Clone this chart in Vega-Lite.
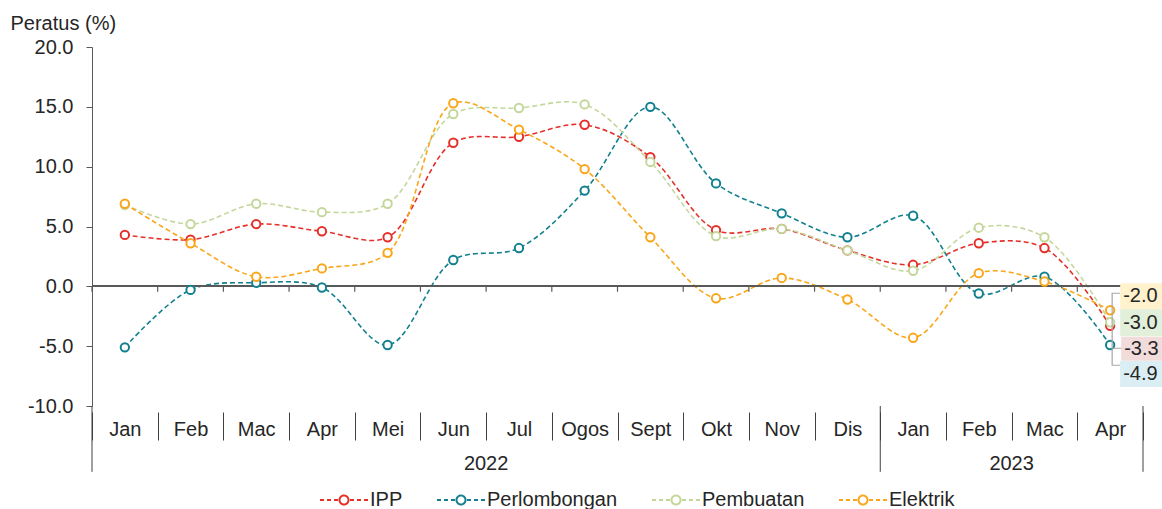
{
  "$schema": "https://vega.github.io/schema/vega-lite/v6.json",
  "width": 1051,
  "height": 359,
  "autosize": "none",
  "padding": {"left": 92, "top": 47, "right": 19, "bottom": 103},
  "background": "white",
  "config": {
    "font": "Liberation Sans, Arial, sans-serif",
    "view": {"stroke": null},
    "locale": {"number": {"decimal": ".", "thousands": ",", "grouping": [3], "currency": ["", ""], "minus": "-"}}
  },
  "data": {
    "values": [
      {"m": "2022-Jan", "s": "IPP", "v": 4.3}, {"m": "2022-Feb", "s": "IPP", "v": 3.9}, {"m": "2022-Mac", "s": "IPP", "v": 5.2}, {"m": "2022-Apr", "s": "IPP", "v": 4.6},
      {"m": "2022-Mei", "s": "IPP", "v": 4.1}, {"m": "2022-Jun", "s": "IPP", "v": 12.0}, {"m": "2022-Jul", "s": "IPP", "v": 12.5}, {"m": "2022-Ogos", "s": "IPP", "v": 13.5},
      {"m": "2022-Sept", "s": "IPP", "v": 10.8}, {"m": "2022-Okt", "s": "IPP", "v": 4.7}, {"m": "2022-Nov", "s": "IPP", "v": 4.8}, {"m": "2022-Dis", "s": "IPP", "v": 3.0},
      {"m": "2023-Jan", "s": "IPP", "v": 1.8}, {"m": "2023-Feb", "s": "IPP", "v": 3.6}, {"m": "2023-Mac", "s": "IPP", "v": 3.2}, {"m": "2023-Apr", "s": "IPP", "v": -3.3},
      {"m": "2022-Jan", "s": "Perlombongan", "v": -5.1}, {"m": "2022-Feb", "s": "Perlombongan", "v": -0.3}, {"m": "2022-Mac", "s": "Perlombongan", "v": 0.3}, {"m": "2022-Apr", "s": "Perlombongan", "v": -0.1},
      {"m": "2022-Mei", "s": "Perlombongan", "v": -4.9}, {"m": "2022-Jun", "s": "Perlombongan", "v": 2.2}, {"m": "2022-Jul", "s": "Perlombongan", "v": 3.2}, {"m": "2022-Ogos", "s": "Perlombongan", "v": 8.0},
      {"m": "2022-Sept", "s": "Perlombongan", "v": 15.0}, {"m": "2022-Okt", "s": "Perlombongan", "v": 8.6}, {"m": "2022-Nov", "s": "Perlombongan", "v": 6.1}, {"m": "2022-Dis", "s": "Perlombongan", "v": 4.1},
      {"m": "2023-Jan", "s": "Perlombongan", "v": 5.9}, {"m": "2023-Feb", "s": "Perlombongan", "v": -0.6}, {"m": "2023-Mac", "s": "Perlombongan", "v": 0.8}, {"m": "2023-Apr", "s": "Perlombongan", "v": -4.9},
      {"m": "2022-Jan", "s": "Pembuatan", "v": 6.8}, {"m": "2022-Feb", "s": "Pembuatan", "v": 5.2}, {"m": "2022-Mac", "s": "Pembuatan", "v": 6.9}, {"m": "2022-Apr", "s": "Pembuatan", "v": 6.2},
      {"m": "2022-Mei", "s": "Pembuatan", "v": 6.9}, {"m": "2022-Jun", "s": "Pembuatan", "v": 14.4}, {"m": "2022-Jul", "s": "Pembuatan", "v": 14.9}, {"m": "2022-Ogos", "s": "Pembuatan", "v": 15.2},
      {"m": "2022-Sept", "s": "Pembuatan", "v": 10.4}, {"m": "2022-Okt", "s": "Pembuatan", "v": 4.2}, {"m": "2022-Nov", "s": "Pembuatan", "v": 4.8}, {"m": "2022-Dis", "s": "Pembuatan", "v": 3.0},
      {"m": "2023-Jan", "s": "Pembuatan", "v": 1.3}, {"m": "2023-Feb", "s": "Pembuatan", "v": 4.9}, {"m": "2023-Mac", "s": "Pembuatan", "v": 4.1}, {"m": "2023-Apr", "s": "Pembuatan", "v": -3.0},
      {"m": "2022-Jan", "s": "Elektrik", "v": 6.9}, {"m": "2022-Feb", "s": "Elektrik", "v": 3.6}, {"m": "2022-Mac", "s": "Elektrik", "v": 0.8}, {"m": "2022-Apr", "s": "Elektrik", "v": 1.5},
      {"m": "2022-Mei", "s": "Elektrik", "v": 2.8}, {"m": "2022-Jun", "s": "Elektrik", "v": 15.3}, {"m": "2022-Jul", "s": "Elektrik", "v": 13.1}, {"m": "2022-Ogos", "s": "Elektrik", "v": 9.8},
      {"m": "2022-Sept", "s": "Elektrik", "v": 4.1}, {"m": "2022-Okt", "s": "Elektrik", "v": -1.0}, {"m": "2022-Nov", "s": "Elektrik", "v": 0.7}, {"m": "2022-Dis", "s": "Elektrik", "v": -1.1},
      {"m": "2023-Jan", "s": "Elektrik", "v": -4.3}, {"m": "2023-Feb", "s": "Elektrik", "v": 1.1}, {"m": "2023-Mac", "s": "Elektrik", "v": 0.4}, {"m": "2023-Apr", "s": "Elektrik", "v": -2.0}
    ]
  },
  "layer": [
    {
      "mark": {"type": "line", "interpolate": "catmull-rom", "strokeDash": [5, 3], "strokeWidth": 1.6},
      "encoding": {
        "x": {"field": "m", "type": "nominal", "bandPosition": 0.5,
          "scale": {"type": "band", "paddingInner": 0, "paddingOuter": 0, "domain": ["2022-Jan","2022-Feb","2022-Mac","2022-Apr","2022-Mei","2022-Jun","2022-Jul","2022-Ogos","2022-Sept","2022-Okt","2022-Nov","2022-Dis","2023-Jan","2023-Feb","2023-Mac","2023-Apr"]},
          "axis": {"orient": "bottom", "offset": 6, "domain": false, "tickBand": "extent", "tickSize": 28, "tickColor": "#404040", "labelExpr": "split(datum.value, '-')[1]", "labelFontSize": 20, "labelColor": "#262626", "labelPadding": -5, "labelBaseline": "alphabetic", "labelAngle": 0, "title": null, "grid": false}},
        "y": {"field": "v", "type": "quantitative",
          "scale": {"domain": [-10, 20], "nice": false, "zero": false},
          "axis": {"values": [-10, -5, 0, 5, 10, 15, 20], "format": ".1f", "grid": false, "domainColor": "#595959", "tickColor": "#595959", "tickSize": 6, "labelFontSize": 20, "labelColor": "#262626", "labelPadding": 13,
            "title": "Peratus (%)", "titleAngle": 0, "titleAlign": "left", "titleBaseline": "alphabetic", "titleX": -82, "titleY": -18, "titleFontWeight": "normal", "titleFontSize": 20, "titleColor": "#262626"}},
        "color": {"field": "s", "type": "nominal", "title": null,
          "scale": {"domain": ["IPP", "Perlombongan", "Pembuatan", "Elektrik"], "range": ["#E5302A", "#12808F", "#C4D79B", "#FAA61A"]},
          "legend": {"orient": "none", "direction": "horizontal", "legendX": 242, "legendY": 443, "labelFontSize": 20, "labelColor": "#262626", "labelOffset": 16, "columnPadding": 30, "symbolSize": 4, "symbolStrokeWidth": 2, "symbolFillColor": "white",
            "symbolType": "M-24,0H-20M-17,0H-13M-10,0H-6M-4.5,0C-4.5,-2.5,-2.5,-4.5,0,-4.5C2.5,-4.5,4.5,-2.5,4.5,0C4.5,2.5,2.5,4.5,0,4.5C-2.5,4.5,-4.5,2.5,-4.5,0ZM6,0H10M13,0H17M20,0H24",
            "encode": {"symbols": {"update": {"strokeDash": {"value": [1, 0]}}}}}}
      }
    },
    {
      "mark": {"type": "rule", "color": "#595959", "strokeWidth": 1.5},
      "encoding": {"y": {"datum": 0, "type": "quantitative"}}
    },
    {
      "transform": [{"filter": "datum.s == 'IPP'"}],
      "mark": {"type": "rule", "color": "#595959", "strokeWidth": 1.2},
      "encoding": {
        "x": {"field": "m", "type": "nominal", "bandPosition": 0},
        "y": {"datum": 0, "type": "quantitative"},
        "y2": {"datum": -0.45}
      }
    },
    {
      "data": {"values": [{"m": "2023-Apr"}]},
      "mark": {"type": "rule", "color": "#595959", "strokeWidth": 1.2},
      "encoding": {
        "x": {"field": "m", "type": "nominal", "bandPosition": 1},
        "y": {"datum": 0, "type": "quantitative"},
        "y2": {"datum": -0.45}
      }
    },
    {
      "data": {"values": [{"m": "2022-Jan"}, {"m": "2023-Jan"}]},
      "mark": {"type": "rule", "color": "#404040", "strokeWidth": 1},
      "encoding": {
        "x": {"field": "m", "type": "nominal", "bandPosition": 0},
        "y": {"datum": -10, "type": "quantitative"},
        "y2": {"datum": -15.5}
      }
    },
    {
      "data": {"values": [{"m": "2023-Apr"}]},
      "mark": {"type": "rule", "color": "#404040", "strokeWidth": 1},
      "encoding": {
        "x": {"field": "m", "type": "nominal", "bandPosition": 1},
        "y": {"datum": -10, "type": "quantitative"},
        "y2": {"datum": -15.5}
      }
    },
    {
      "data": {"values": [{"m": "2022-Jun", "yr": "2022"}, {"m": "2023-Feb", "yr": "2023"}]},
      "mark": {"type": "text", "fontSize": 20, "color": "#262626", "align": "center", "baseline": "alphabetic"},
      "encoding": {
        "x": {"field": "m", "type": "nominal", "bandPosition": 1},
        "y": {"datum": -15.35, "type": "quantitative"},
        "text": {"field": "yr"}
      }
    },
    {
      "mark": {"type": "point", "filled": true, "fill": "white", "size": 70, "strokeWidth": 2, "opacity": 1},
      "encoding": {
        "x": {"field": "m", "type": "nominal", "bandPosition": 0.5},
        "y": {"field": "v", "type": "quantitative"},
        "stroke": {"field": "s", "type": "nominal", "legend": null,
          "scale": {"domain": ["IPP", "Perlombongan", "Pembuatan", "Elektrik"], "range": ["#E5302A", "#12808F", "#C4D79B", "#FAA61A"]}}
      }
    },
    {
      "transform": [{"filter": "datum.m == '2023-Apr' && datum.s == 'Elektrik'"}],
      "mark": {"type": "point", "filled": false, "size": 4, "stroke": "#A6A6A6", "strokeWidth": 1.2, "opacity": 1, "shape": "M10,-17H2V55H10M2,38H12"},
      "encoding": {"x": {"field": "m", "type": "nominal", "bandPosition": 0.5}, "y": {"field": "v", "type": "quantitative"}}
    },
    {
      "transform": [{"filter": "datum.m == '2023-Apr' && datum.s == 'Elektrik'"}],
      "layer": [
        {"mark": {"type": "point", "filled": true, "size": 4, "opacity": 1, "strokeWidth": 0, "fill": "#FFF2CC", "shape": "M10,-27H52V-1H10Z"}},
        {"mark": {"type": "text", "fontSize": 20, "color": "#262626", "align": "left", "baseline": "middle", "dx": 13, "dy": -14}, "encoding": {"text": {"field": "v", "type": "quantitative", "format": ".1f"}}}
      ],
      "encoding": {"x": {"field": "m", "type": "nominal", "bandPosition": 0.5}, "y": {"field": "v", "type": "quantitative"}}
    },
    {
      "transform": [{"filter": "datum.m == '2023-Apr' && datum.s == 'Pembuatan'"}],
      "layer": [
        {"mark": {"type": "point", "filled": true, "size": 4, "opacity": 1, "strokeWidth": 0, "fill": "#E2EFDA", "shape": "M10,-13H52V14H10Z"}},
        {"mark": {"type": "text", "fontSize": 20, "color": "#262626", "align": "left", "baseline": "middle", "dx": 13, "dy": 1}, "encoding": {"text": {"field": "v", "type": "quantitative", "format": ".1f"}}}
      ],
      "encoding": {"x": {"field": "m", "type": "nominal", "bandPosition": 0.5}, "y": {"field": "v", "type": "quantitative"}}
    },
    {
      "transform": [{"filter": "datum.m == '2023-Apr' && datum.s == 'IPP'"}],
      "layer": [
        {"mark": {"type": "point", "filled": true, "size": 4, "opacity": 1, "strokeWidth": 0, "fill": "#F2DCDB", "shape": "M11,11H52V35H11Z"}},
        {"mark": {"type": "text", "fontSize": 20, "color": "#262626", "align": "left", "baseline": "middle", "dx": 14, "dy": 23.5}, "encoding": {"text": {"field": "v", "type": "quantitative", "format": ".1f"}}}
      ],
      "encoding": {"x": {"field": "m", "type": "nominal", "bandPosition": 0.5}, "y": {"field": "v", "type": "quantitative"}}
    },
    {
      "transform": [{"filter": "datum.m == '2023-Apr' && datum.s == 'Perlombongan'"}],
      "layer": [
        {"mark": {"type": "point", "filled": true, "size": 4, "opacity": 1, "strokeWidth": 0, "fill": "#DAEEF3", "shape": "M10,16H52V42H10Z"}},
        {"mark": {"type": "text", "fontSize": 20, "color": "#262626", "align": "left", "baseline": "middle", "dx": 13, "dy": 29.5}, "encoding": {"text": {"field": "v", "type": "quantitative", "format": ".1f"}}}
      ],
      "encoding": {"x": {"field": "m", "type": "nominal", "bandPosition": 0.5}, "y": {"field": "v", "type": "quantitative"}}
    }
  ]
}
